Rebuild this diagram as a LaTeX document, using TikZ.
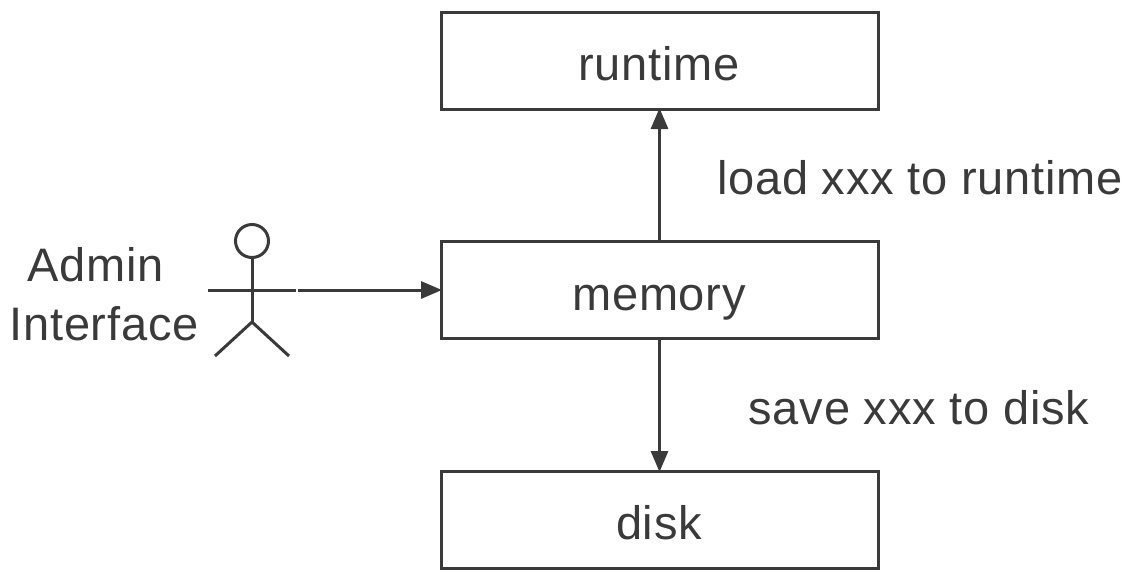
\documentclass[tikz,border=0pt]{standalone}
\usepackage{fontspec}
\setmainfont[LetterSpace=1.6]{Liberation Sans}
\usetikzlibrary{arrows.meta}
\definecolor{ink}{HTML}{3A3A3A}
\tikzset{
  px/.style={x=1pt,y=-1pt},
  boxn/.style={draw=ink,line width=3pt,minimum width=437pt,minimum height=97pt,inner sep=0pt,outer sep=0pt},
  lab/.style={text=ink,font=\fontsize{47pt}{52pt}\selectfont,inner sep=0pt,anchor=base},
  conn/.style={draw=ink,line width=3pt,-{Triangle[length=21pt,width=17pt]},shorten >=-1pt},
  stick/.style={draw=ink,line width=3pt}
}
\begin{document}
\begin{tikzpicture}[px]
\useasboundingbox (0,0) rectangle (1130,571);
\node[boxn] (runtime) at (659.5,60.5) {};
\node[boxn] (memory) at (659.5,289.5) {};
\node[boxn] (disk) at (659.5,519.5) {};
\node[lab] (t1) at (659,80) {runtime};
\node[lab] (t2) at (659,310) {memory};
\node[lab] (t3) at (659,539) {disk};
\draw[conn] (memory.north) -- (runtime.south);
\draw[conn] (memory.south) -- (disk.north);
\coordinate (hand) at (298,290);
\draw[conn] (hand) -- (memory.west |- hand);
\node[draw=ink,line width=3pt,circle,minimum size=33pt,inner sep=0pt] (head) at (252,241) {};
\coordinate (hip) at (252,322);
\coordinate (armL) at (208,290);
\coordinate (armR) at (296,290);
\coordinate (legL) at (215,356);
\coordinate (legR) at (289,356);
\draw[stick] (head.south) -- (hip);
\draw[stick] (armL) -- (armR);
\draw[stick] (legL) -- (hip) -- (legR);
\node[lab] (l1) at (96,281) {Admin};
\node[lab] (l2) at (104,340) {Interface};
\node[lab] (l3) at (920,194) {load xxx to runtime};
\node[lab] (l4) at (919,424) {save xxx to disk};
\end{tikzpicture}
\end{document}
